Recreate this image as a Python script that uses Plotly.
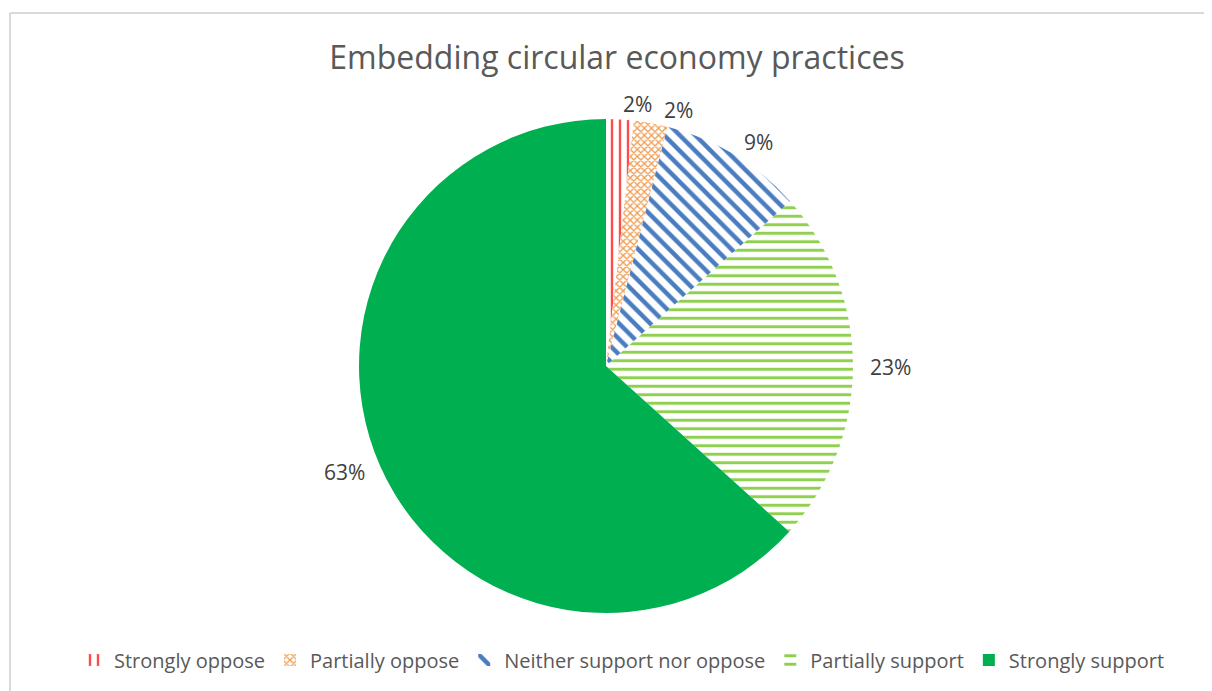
import math
import plotly.graph_objects as go

categories = ["Strongly oppose", "Partially oppose", "Neither support nor oppose",
              "Partially support", "Strongly support"]
values = [1.8, 2.2, 9.4, 23.3, 63.3]
colors = ["#FF4B4B", "#F19B4E", "#4A7CC0", "#8FD14F", "#00B050"]
patterns = ["|", "x", "\\", "-", ""]

W, H = 1212, 691
OFF = 8  # page body margin offset
cx, cy, r = 606 - OFF, 366 - OFF, 247

FONT = "Open Sans, Liberation Sans, sans-serif"
LABEL_SIZE = 21

fig = go.Figure()
fig.add_trace(go.Pie(
    labels=categories,
    values=values,
    sort=False,
    direction="clockwise",
    rotation=0,
    textinfo="none",
    hovertemplate="%{label}: %{percent:.0%}<extra></extra>",
    marker=dict(
        colors=["white"] * 4 + ["#00B050"],
        line=dict(color="white", width=0),
        pattern=dict(
            shape=patterns,
            fgcolor=colors,
            bgcolor="white",
            fgopacity=1,
            size=[8, 5, 11, 8.5, 8],
            solidity=[0.3, 0.45, 0.4, 0.35, 0.5],
            fillmode="replace",
        ),
    ),
    domain=dict(x=[(cx - r) / W, (cx + r) / W], y=[(H - cy - r) / H, (H - cy + r) / H]),
    showlegend=True,
    automargin=False,
))


def text_width(s, size):
    w = 0.0
    for ch in s:
        w += 0.83 if ch == "%" else 0.572
    return w * size


# percentage labels just outside each slice (best-fit style), nudged along the
# circle when they would collide with the previous label
total = sum(values)
annotations = []
cum = 0.0
label_dist = r + 15
prev_box = None
for v in values:
    ang = (cum + v / 2) / total * 2 * math.pi
    cum += v
    txt = f"{round(v / total * 100)}%"
    tw, th = text_width(txt, LABEL_SIZE), LABEL_SIZE * 1.1
    while True:
        px = cx + label_dist * math.sin(ang)
        py = cy - label_dist * math.cos(ang)
        right_side = math.sin(ang) >= 0
        x0 = px if right_side else px - tw
        box = (x0 - 6, py - th / 2, x0 + tw + 6, py + th / 2)
        if prev_box and not (box[0] >= prev_box[2] or box[2] <= prev_box[0]
                             or box[1] >= prev_box[3] or box[3] <= prev_box[1]):
            ang += math.radians(0.5)
            continue
        break
    prev_box = box
    annotations.append(dict(
        x=px / W, y=(H - py) / H, xref="paper", yref="paper",
        text=txt, showarrow=False,
        xanchor="left" if right_side else "right", yanchor="middle",
        font=dict(family=FONT, size=LABEL_SIZE, color="#404040"),
    ))

fig.update_layout(
    width=W, height=H,
    margin=dict(l=0, r=0, t=0, b=0),
    paper_bgcolor="white",
    plot_bgcolor="white",
    title=dict(
        text="Embedding circular economy practices",
        x=(617 - OFF) / W, xanchor="center",
        y=(H - (58 - OFF)) / H, yanchor="middle",
        font=dict(family=FONT, size=32, color="#595959"),
    ),
    legend=dict(
        orientation="h",
        x=(622 - OFF) / W, xanchor="center",
        y=(H - (660 - OFF)) / H, yanchor="middle",
        font=dict(family=FONT, size=20, color="#595959"),
        itemwidth=30,
        bgcolor="rgba(0,0,0,0)",
    ),
    annotations=annotations,
    shapes=[
        dict(type="line", xref="paper", yref="paper", x0=(10 - OFF) / W, x1=1,
             y0=(H - (13 - OFF)) / H, y1=(H - (13 - OFF)) / H,
             line=dict(color="#D9D9D9", width=2)),
        dict(type="line", xref="paper", yref="paper", x0=(10 - OFF) / W, x1=(10 - OFF) / W,
             y0=0, y1=(H - (13 - OFF)) / H,
             line=dict(color="#D9D9D9", width=2)),
    ],
)

fig.write_html("out.html")
